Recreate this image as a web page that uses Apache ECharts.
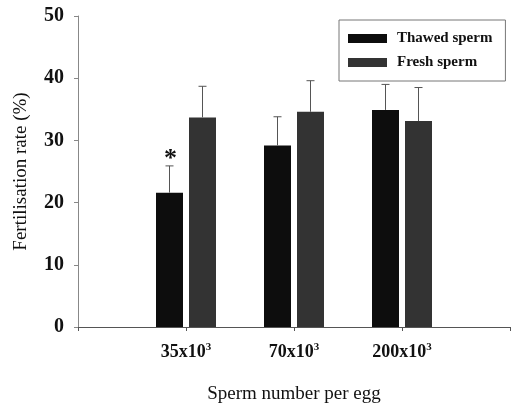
<!DOCTYPE html>
<html><head><meta charset="utf-8">
<script src="https://cdn.jsdelivr.net/npm/echarts@6/dist/echarts.min.js"></script>
<style>html,body{margin:0;padding:0;background:#fff}#c{width:512px;height:403px}</style>
</head><body><div id="c"></div>
<script>
const categories = ['', '35x10^3', '70x10^3', '200x10^3', ''];
const thawed = [null, 21.6, 29.2, 34.9, null];
const thawedErr = [null, 25.9, 33.8, 39.0, null];
const fresh = [null, 33.7, 34.6, 33.1, null];
const freshErr = [null, 38.7, 39.6, 38.5, null];
const significance = ['', '*', '', '', ''];
const yTicks = [0, 10, 20, 30, 40, 50];

const FONT = '"Liberation Serif", "DejaVu Serif", serif';
const BW = 27, GAP = 6;

function errSeries(vals, bars, off, marks) {
  return {
    type: 'custom',
    z: 5,
    silent: true,
    data: vals.map((v, i) => [i, v]),
    renderItem: function (params, api) {
      const i = api.value(0), v = api.value(1);
      const bar = bars[i];
      if (v == null || isNaN(v) || bar == null) return;
      const top = api.coord([i, v]);
      const base = api.coord([i, bar]);
      const x = top[0] + off;
      const children = [
        { type: 'line', shape: { x1: x, y1: base[1], x2: x, y2: top[1] }, style: { stroke: '#555', lineWidth: 1 } },
        { type: 'line', shape: { x1: x - 4, y1: top[1], x2: x + 4, y2: top[1] }, style: { stroke: '#555', lineWidth: 1 } }
      ];
      if (marks && marks[i]) {
        children.push({ type: 'text', style: { text: marks[i], x: x + 1, y: top[1] + 6, textAlign: 'center', textVerticalAlign: 'bottom', fill: '#111', font: 'bold 26px ' + FONT } });
      }
      return { type: 'group', children: children };
    }
  };
}

const chart = echarts.init(document.getElementById('c'), null, { renderer: 'canvas' });
chart.setOption({
  animation: false,
  backgroundColor: '#fff',
  textStyle: { fontFamily: FONT },
  grid: { left: 78, right: 2, top: 16, bottom: 76, containLabel: false, outerBoundsMode: 'none' },
  legend: {
    orient: 'vertical',
    left: 339, top: 20,
    padding: [11, 13, 11, 9],
    itemGap: 9,
    itemWidth: 39, itemHeight: 9,
    icon: 'rect',
    borderColor: '#777', borderWidth: 1,
    textStyle: { fontFamily: FONT, fontSize: 15, color: '#111', fontWeight: 'bold', padding: [0, 0, 0, 5] },
    data: ['Thawed sperm', 'Fresh sperm']
  },
  xAxis: {
    type: 'category',
    data: categories,
    boundaryGap: false,
    name: 'Sperm number per egg',
    nameLocation: 'middle',
    nameGap: 58,
    nameTextStyle: { fontFamily: FONT, fontSize: 19, color: '#111' },
    axisLine: { lineStyle: { color: '#555', width: 1 } },
    axisTick: { length: 4, lineStyle: { color: '#555' } },
    axisLabel: {
      interval: 0,
      margin: 15,
      fontFamily: FONT, fontSize: 18, color: '#111', fontWeight: 'bold',
      formatter: function (v) {
        if (!v) return '';
        const p = v.split('^');
        return p[0] + '{sup|' + p[1] + '}';
      },
      rich: { sup: { fontFamily: FONT, fontSize: 11, fontWeight: 'bold', verticalAlign: 'top', padding: [0, 0, 9, 0], color: '#111' } }
    },
    splitLine: { show: false }
  },
  yAxis: {
    type: 'value',
    min: yTicks[0], max: yTicks[yTicks.length - 1], interval: 10,
    name: 'Fertilisation rate (%)',
    nameLocation: 'middle',
    nameGap: 47,
    nameTextStyle: { fontFamily: FONT, fontSize: 19, color: '#111' },
    axisLine: { show: true, lineStyle: { color: '#888', width: 1 } },
    axisTick: { show: true, length: 4, lineStyle: { color: '#888' } },
    axisLabel: { margin: 14, fontFamily: FONT, fontSize: 20, color: '#111', fontWeight: 'bold' },
    splitLine: { show: false }
  },
  series: [
    { name: 'Thawed sperm', type: 'bar', data: thawed, barWidth: BW, barGap: (GAP / BW * 100) + '%', itemStyle: { color: '#0d0d0d' } },
    { name: 'Fresh sperm', type: 'bar', data: fresh, barWidth: BW, itemStyle: { color: '#333333' } },
    errSeries(thawedErr, thawed, -(BW + GAP) / 2, significance),
    errSeries(freshErr, fresh, (BW + GAP) / 2, null)
  ]
});
</script></body></html>
